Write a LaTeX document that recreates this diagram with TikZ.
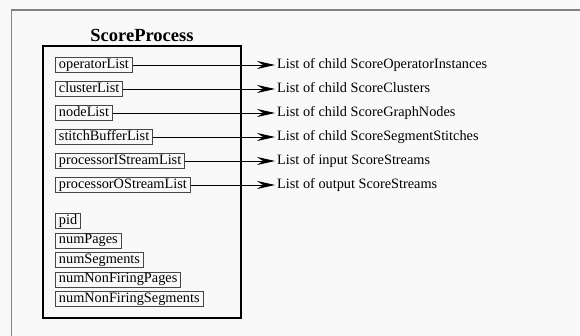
\documentclass[tikz,border=0pt]{standalone}
\usepackage{fontspec}
\setmainfont{Liberation Serif}
\usetikzlibrary{arrows.meta}
\definecolor{paper}{RGB}{249,249,249}
\definecolor{framegray}{RGB}{130,130,130}
\definecolor{fieldgray}{RGB}{70,70,70}
\tikzset{
  field/.style={draw=fieldgray, line width=0.9pt, anchor=west, font=\fontsize{14.3}{16}\selectfont,
    inner xsep=3.5pt, inner ysep=1pt, text height=10pt, text depth=3pt},
  desc/.style={anchor=west, font=\fontsize{14.3}{16}\selectfont, inner xsep=2pt, inner ysep=0pt,
    text height=10pt, text depth=3pt},
  link/.style={draw=black, line width=0.8pt, -{Stealth[length=18pt, width=8pt, inset=6pt]}},
  classbox/.style={draw=black, line width=1.6pt},
  framing/.style={draw=framegray, line width=1.6pt}
}
\begin{document}
\begin{tikzpicture}[x=1pt, y=-1pt]
  % page and open frame
  \fill[paper] (0,0) rectangle (580,336);
  \useasboundingbox (0,0) rectangle (580,336);
  \draw[framing] (11.5,336) -- (11.5,10) -- (580,10);

  % class box with its title
  \node[font=\fontsize{18.5}{20}\selectfont\bfseries, anchor=base, inner sep=0pt] (title) at (142,42) {ScoreProcess};
  \draw[classbox] (43,46) rectangle (241,318);

  % list members and what they hold
  \node[field] (f1) at (55,65)  {operatorList};
  \node[field] (f2) at (55,89)  {clusterList};
  \node[field] (f3) at (55,113) {nodeList};
  \node[field] (f4) at (55,137) {stitchBufferList};
  \node[field] (f5) at (55,161) {processorIStreamList};
  \node[field] (f6) at (55,185) {processorOStreamList};

  \node[desc] (d1) at (275,65)  {List of child ScoreOperatorInstances};
  \node[desc] (d2) at (275,89)  {List of child ScoreClusters};
  \node[desc] (d3) at (275,113) {List of child ScoreGraphNodes};
  \node[desc] (d4) at (275,137) {List of child ScoreSegmentStitches};
  \node[desc] (d5) at (275,161) {List of input ScoreStreams};
  \node[desc] (d6) at (275,185) {List of output ScoreStreams};

  \foreach \i in {1,...,6} {
    \draw[link] (f\i.east) -- (d\i.west);
  }

  % scalar members
  \node[field] (s1) at (55,221)   {pid};
  \node[field] (s2) at (55,240.5) {numPages};
  \node[field] (s3) at (55,260)   {numSegments};
  \node[field] (s4) at (55,279.5) {numNonFiringPages};
  \node[field] (s5) at (55,299)   {numNonFiringSegments};
\end{tikzpicture}
\end{document}
